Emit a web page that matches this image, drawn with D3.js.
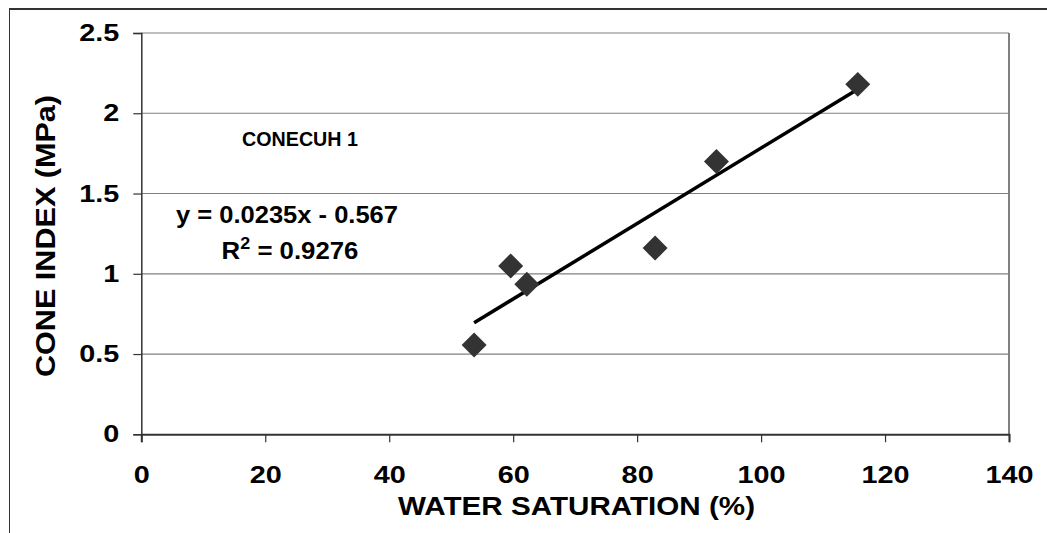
<!DOCTYPE html>
<html>
<head>
<meta charset="utf-8">
<script src="https://cdn.jsdelivr.net/npm/d3@7"></script>
<style>
  html, body { margin: 0; padding: 0; background: #fff; }
  svg { display: block; }
  text { font-family: "Liberation Sans", Arial, sans-serif; font-weight: bold; fill: #000; }
</style>
</head>
<body>
<svg id="chart" width="1047" height="533"></svg>
<script>
// ---- data ----
const waterSaturation = [53.7, 59.6, 62.2, 82.9, 92.8, 115.6];
const coneIndex = [0.556, 1.049, 0.935, 1.16, 1.70, 2.18];
const trendSlope = [0.0235];
const trendIntercept = [-0.567];
const xTicks = [0, 20, 40, 60, 80, 100, 120, 140];
const yTicks = [0, 0.5, 1, 1.5, 2, 2.5];
const yTickLabels = ["0", "0.5", "1", "1.5", "2", "2.5"];
const seriesName = ["CONECUH 1"];
const equationText = ["y = 0.0235x  - 0.567", "0.9276"];

const svg = d3.select("#chart");
const pLeft = 141.3, pRight = 1009, pTop = 33, pBottom = 434.3;

const x = d3.scaleLinear().domain([0, 140]).range([pLeft, pRight]);
const y = d3.scaleLinear().domain([0, 2.5]).range([pBottom, pTop]);

function stretch(sel, k) {
  sel.each(function () {
    const w = this.getComputedTextLength();
    d3.select(this).attr("textLength", w * k).attr("lengthAdjust", "spacingAndGlyphs");
  });
}

// outer frame (top and left edges visible)
svg.append("line").attr("x1", 9).attr("x2", 1047).attr("y1", 9).attr("y2", 9)
  .attr("stroke", "#333").attr("stroke-width", 2);
svg.append("line").attr("x1", 9.5).attr("x2", 9.5).attr("y1", 8).attr("y2", 533)
  .attr("stroke", "#333").attr("stroke-width", 1);

// gridlines
svg.append("g").selectAll("line").data(yTicks.filter(d => d > 0)).join("line")
  .attr("x1", pLeft).attr("x2", pRight)
  .attr("y1", d => y(d)).attr("y2", d => y(d))
  .attr("stroke", "#808080").attr("stroke-width", 1.2);

// right plot border
svg.append("line").attr("x1", pRight).attr("x2", pRight).attr("y1", pTop).attr("y2", pBottom)
  .attr("stroke", "#808080").attr("stroke-width", 2);

// axes
const xAxis = svg.append("g").attr("transform", `translate(0,${pBottom})`)
  .call(d3.axisBottom(x).tickValues(xTicks).tickSize(8).tickPadding(24).tickFormat(d3.format("d")));
const yAxis = svg.append("g").attr("transform", `translate(${pLeft},0)`)
  .call(d3.axisLeft(y).tickValues(yTicks).tickSize(8).tickPadding(14).tickFormat((d, i) => yTickLabels[i]));

[xAxis, yAxis].forEach(a => {
  a.select(".domain").attr("stroke", "#333").attr("stroke-width", 1.5);
  a.selectAll(".tick line").attr("stroke", "#333").attr("stroke-width", 1.2);
  a.selectAll(".tick text").attr("font-size", 24).attr("font-family", null).attr("fill", "#000");
});
xAxis.select(".domain").attr("stroke-width", 2);
stretch(xAxis.selectAll(".tick text"), 1.2);
stretch(yAxis.selectAll(".tick text"), 1.2);

// trendline
const xs = d3.extent(waterSaturation);
const trend = xs.map(v => [v, trendSlope[0] * v + trendIntercept[0]]);
svg.append("path")
  .attr("d", d3.line().x(d => x(d[0])).y(d => y(d[1]))(trend))
  .attr("stroke", "#000").attr("stroke-width", 3.5).attr("fill", "none");

// markers
svg.append("g").selectAll("path").data(waterSaturation).join("path")
  .attr("d", d3.symbol(d3.symbolSquare, 312))
  .attr("transform", (d, i) => `translate(${x(d)},${y(coneIndex[i])}) rotate(45)`)
  .attr("fill", "#333333");

// annotations
svg.append("text").attr("x", 300).attr("y", 146).attr("text-anchor", "middle")
  .attr("font-size", 20).text(seriesName[0])
  .attr("textLength", 116).attr("lengthAdjust", "spacingAndGlyphs");

svg.append("text").attr("x", 287).attr("y", 223).attr("text-anchor", "middle")
  .attr("font-size", 23).text(equationText[0])
  .attr("textLength", 222).attr("lengthAdjust", "spacingAndGlyphs");

const r2 = svg.append("text").attr("x", 290).attr("y", 258.5).attr("text-anchor", "middle")
  .attr("font-size", 23);
r2.append("tspan").text("R");
r2.append("tspan").attr("font-size", 16).attr("dy", -10).text("2");
r2.append("tspan").attr("dy", 10).text(" = " + equationText[1]);
stretch(r2, 1.12);

// axis titles
const xt = svg.append("text").attr("x", 576.5).attr("y", 515).attr("text-anchor", "middle")
  .attr("font-size", 25.5).text("WATER SATURATION (%)");
xt.attr("textLength", 357).attr("lengthAdjust", "spacingAndGlyphs");

const yt = svg.append("text").attr("transform", "translate(55,236) rotate(-90)")
  .attr("text-anchor", "middle").attr("font-size", 27).text("CONE INDEX (MPa)");
yt.attr("textLength", 282).attr("lengthAdjust", "spacingAndGlyphs");
</script>
</body>
</html>
